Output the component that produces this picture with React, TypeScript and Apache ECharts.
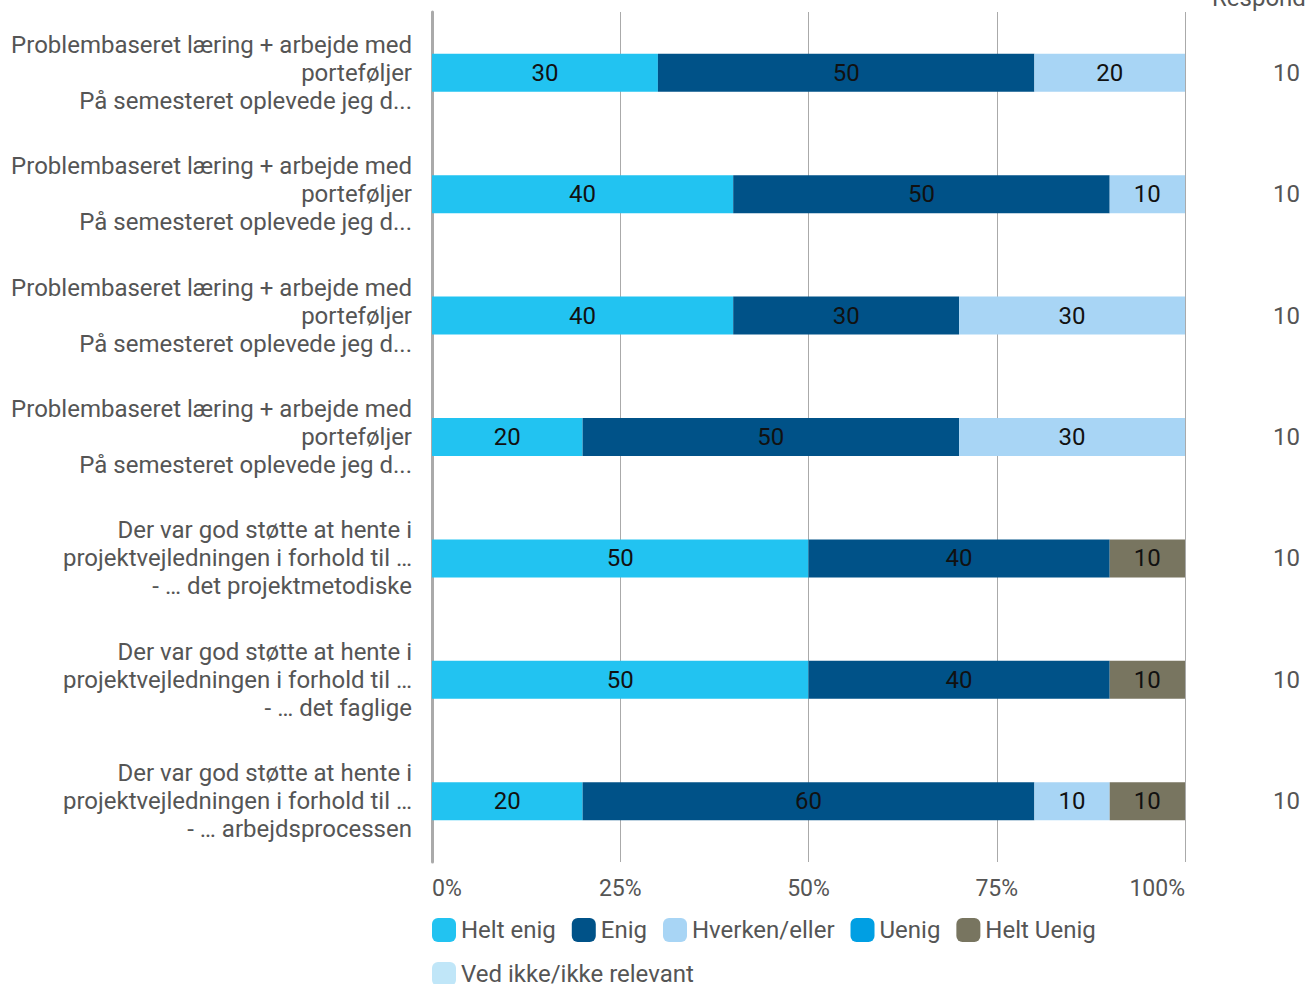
import React, { useEffect, useRef } from "react";
import * as echarts from "echarts";

const categories = [
  "Problembaseret læring + arbejde med\nporteføljer\nPå semesteret oplevede jeg d...",
  "Problembaseret læring + arbejde med\nporteføljer\nPå semesteret oplevede jeg d...",
  "Problembaseret læring + arbejde med\nporteføljer\nPå semesteret oplevede jeg d...",
  "Problembaseret læring + arbejde med\nporteføljer\nPå semesteret oplevede jeg d...",
  "Der var god støtte at hente i\nprojektvejledningen i forhold til …\n- … det projektmetodiske",
  "Der var god støtte at hente i\nprojektvejledningen i forhold til …\n- … det faglige",
  "Der var god støtte at hente i\nprojektvejledningen i forhold til …\n- … arbejdsprocessen",
];

const heltEnig = [30, 40, 40, 20, 50, 50, 20];
const enig = [50, 50, 30, 50, 40, 40, 60];
const hverken = [20, 10, 30, 30, 0, 0, 10];
const uenig = [0, 0, 0, 0, 0, 0, 0];
const heltUenig = [0, 0, 0, 0, 10, 10, 10];
const vedIkke = [0, 0, 0, 0, 0, 0, 0];
const respondents = ["10", "10", "10", "10", "10", "10", "10"];

const seriesDefs = [
  { name: "Helt enig", data: heltEnig, color: "#22C3F1" },
  { name: "Enig", data: enig, color: "#005288" },
  { name: "Hverken/eller", data: hverken, color: "#A8D5F5" },
  { name: "Uenig", data: uenig, color: "#009FE3" },
  { name: "Helt Uenig", data: heltUenig, color: "#787560" },
  { name: "Ved ikke/ikke relevant", data: vedIkke, color: "#C0E6F8" },
];

export default function App() {
  const ref = useRef<HTMLDivElement>(null);
  useEffect(() => {
    document.body.style.margin = "0";
    const chart = echarts.init(ref.current!, null, { renderer: "svg" });
    const font = "Roboto";
    chart.setOption({
      animation: false,
      textStyle: { fontFamily: font },
      grid: { left: 432, right: 120, top: 12, bottom: 122, containLabel: false, outerBoundsMode: "none" },
      legend: {
        left: 432,
        top: 916,
        width: 780,
        padding: 0,
        itemWidth: 24,
        itemHeight: 24,
        itemGap: 16,
        icon: "roundRect",
        textStyle: { fontSize: 24, color: "#555", fontFamily: font, lineHeight: 28 },
        data: seriesDefs.map((s) => s.name),
      },
      xAxis: {
        type: "value",
        min: 0,
        max: 100,
        interval: 25,
        axisLine: { show: false },
        axisTick: { show: false },
        splitLine: { show: true, lineStyle: { color: "#aaa", width: 1 } },
        axisLabel: {
          formatter: "{value}%",
          fontSize: 23,
          color: "#555",
          margin: 15,
          fontFamily: font,
          alignMinLabel: "left",
          alignMaxLabel: "right",
        },
      },
      yAxis: [
        {
          type: "category",
          inverse: true,
          data: categories,
          axisLine: { show: true, lineStyle: { color: "#aaa", width: 3 } },
          axisTick: { show: false },
          axisLabel: {
            fontSize: 24,
            lineHeight: 28,
            color: "#555",
            margin: 20,
            align: "right",
            fontFamily: font,
          },
        },
        {
          type: "category",
          inverse: true,
          position: "right",
          data: respondents,
          name: "Respondenter",
          nameLocation: "start",
          nameGap: 2,
          nameTextStyle: { fontSize: 24, color: "#555", align: "left", padding: [0, 0, 0, 27], fontFamily: font },
          axisLine: { show: false },
          axisTick: { show: false },
          axisLabel: { fontSize: 24, color: "#555", margin: 115, align: "right", fontFamily: font },
        },
      ],
      series: seriesDefs.map((s) => ({
        name: s.name,
        type: "bar",
        stack: "total",
        barWidth: 38,
        yAxisIndex: 0,
        itemStyle: { color: s.color },
        label: {
          show: true,
          position: "inside",
          color: "#111",
          fontSize: 24,
          fontFamily: font,
          formatter: (p: any) => (p.value ? String(p.value) : ""),
        },
        data: s.data,
      })),
    });
    return () => chart.dispose();
  }, []);
  return <div ref={ref} style={{ width: 1305, height: 984 }} />;
}
